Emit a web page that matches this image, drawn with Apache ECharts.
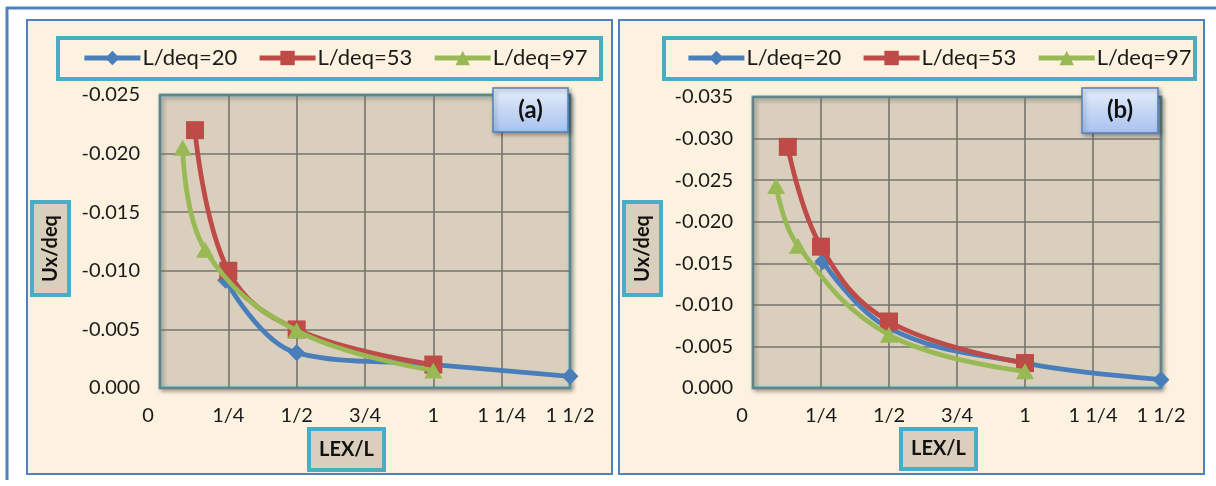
<!DOCTYPE html>
<html>
<head>
<meta charset="utf-8">
<script src="https://cdn.jsdelivr.net/npm/echarts@6/dist/echarts.min.js"></script>
<style>
html,body{margin:0;padding:0;background:#fff;}
#chart{width:1216px;height:486px;}
</style>
</head>
<body>
<div id="chart"></div>
<script>
// ---- data ----
const seriesNames = ['L/deq=20', 'L/deq=53', 'L/deq=97'];
const xTickLabels = ['0', '1/4', '1/2', '3/4', '1', '1 1/4', '1 1/2'];
const yTickLabelsA = ['-0.025', '-0.020', '-0.015', '-0.010', '-0.005', '0.000'];
const yTickLabelsB = ['-0.035', '-0.030', '-0.025', '-0.020', '-0.015', '-0.010', '-0.005', '0.000'];

// panel (a)
const a20x = [0.24, 0.5, 1.0, 1.5];
const a20y = [-0.0092, -0.003, -0.002, -0.001];
const a53x = [0.128, 0.25, 0.5, 1.0];
const a53y = [-0.022, -0.010, -0.005, -0.002];
const a97x = [0.083, 0.165, 0.5, 1.0];
const a97y = [-0.0205, -0.0118, -0.0049, -0.0015];
// panel (b)
const b20x = [0.257, 0.5, 1.0, 1.5];
const b20y = [-0.0152, -0.0072, -0.003, -0.001];
const b53x = [0.128, 0.25, 0.5, 1.0];
const b53y = [-0.029, -0.017, -0.008, -0.003];
const b97x = [0.085, 0.165, 0.5, 1.0];
const b97y = [-0.0243, -0.0171, -0.0064, -0.002];

const panelLabels = ['(a)', '(b)'];
const xTitle = 'LEX/L';
const yTitle = 'Ux/deq';

// ---- styles ----
const FONT = 'Lato, "Open Sans", sans-serif';
const colors = ['#4a7ebb', '#be4b48', '#98b954'];
const symbols = ['diamond', 'rect', 'triangle'];
const symbolSizes = [[17, 17], [18, 18], [18, 16]];
const TEAL = '#4bacc6';
const FRAME = '#4f81bd';
const PANEL_BG = '#fcf2df';
const PLOT_BG = '#d9cfbc';

function zip(xs, ys) { return xs.map((x, i) => [x, ys[i]]); }

function mkSeries(name, idx, gi, xs, ys) {
  return {
    name: name, type: 'line', xAxisIndex: gi, yAxisIndex: gi,
    data: zip(xs, ys), smooth: 0.4,
    symbol: symbols[idx], symbolSize: symbolSizes[idx],
    lineStyle: { color: colors[idx], width: 4.8 },
    itemStyle: { color: colors[idx] },
    emphasis: { disabled: true }, z: 2 + idx
  };
}

function xAxis(gi, zeroShift) {
  return {
    type: 'value', gridIndex: gi, min: 0, max: 1.5, interval: 0.25,
    axisLine: { show: false }, axisTick: { show: false },
    splitLine: { show: true, lineStyle: { color: '#76746f', width: 1.6 } },
    axisLabel: {
      margin: 18, fontSize: 20, color: '#1a1a1a', fontFamily: FONT,
      formatter: function (v) {
        const s = xTickLabels[Math.round(v / 0.25)];
        return v === 0 ? '{z|' + s + '}' : s;
      },
      rich: { z: { fontSize: 20, color: '#1a1a1a', fontFamily: FONT, padding: [0, zeroShift * 2, 0, 0] } }
    }
  };
}

function yAxis(gi, minV, labels) {
  return {
    type: 'value', gridIndex: gi, min: minV, max: 0, interval: 0.005, inverse: true,
    axisLine: { show: false }, axisTick: { show: false },
    splitLine: { show: true, lineStyle: { color: '#76746f', width: 1.6 } },
    axisLabel: {
      margin: 20, fontSize: 20, color: '#1a1a1a', fontFamily: FONT,
      formatter: function (v) { return labels[Math.round((v - minV) / 0.005)]; }
    }
  };
}

function box(x, y, w, h, fill, stroke, lw, z, extra) {
  return Object.assign({
    type: 'rect', z: z, silent: true,
    shape: { x: x, y: y, width: w, height: h },
    style: { fill: fill, stroke: stroke, lineWidth: lw }
  }, extra || {});
}

function txt(x, y, text, size, bold, z, rot) {
  return {
    type: 'text', z: z, silent: true, x: x, y: y, rotation: rot || 0,
    style: { text: text, fill: '#111', font: (bold ? 'bold ' : '') + size + 'px ' + FONT,
             textAlign: 'center', textVerticalAlign: 'middle' }
  };
}

const labelGrad = { type: 'linear', x: 0, y: 0, x2: 0, y2: 1,
  colorStops: [{ offset: 0, color: '#e6eefc' }, { offset: 1, color: '#a7c1ef' }] };
const labelStyle = { fill: labelGrad, stroke: FRAME, lineWidth: 1.5, shadowBlur: 4,
  shadowOffsetX: 2, shadowOffsetY: 2, shadowColor: 'rgba(0,0,0,0.35)' };

const graphics = [
  // outer frame lines
  { type: 'line', z: -20, silent: true, shape: { x1: 6, y1: 8, x2: 1216, y2: 8 }, style: { stroke: FRAME, lineWidth: 3 } },
  { type: 'line', z: -20, silent: true, shape: { x1: 7, y1: 7, x2: 7, y2: 480 }, style: { stroke: FRAME, lineWidth: 3 } },
  // panels
  box(27, 20, 585, 454, PANEL_BG, FRAME, 2, -10),
  box(619, 20, 585, 454, PANEL_BG, FRAME, 2, -10),
  // legend boxes
  box(58, 38, 543, 41, 'none', TEAL, 4, 5),
  box(664, 38, 531, 41, 'none', TEAL, 4, 5),
  // panel label boxes
  box(493, 88, 75, 44, labelGrad, FRAME, 1.5, 10, { style: labelStyle }),
  txt(530.5, 110, panelLabels[0], 24, true, 11),
  box(1082, 88, 76, 45, labelGrad, FRAME, 1.5, 10, { style: labelStyle }),
  txt(1120, 110.5, panelLabels[1], 24, true, 11),
  // y titles
  box(32, 202, 37, 93, '#d9cfbc', TEAL, 4, 10),
  txt(50.5, 248.5, yTitle, 20, true, 11, Math.PI / 2),
  box(624, 202, 37, 93, '#d9cfbc', TEAL, 4, 10),
  txt(642.5, 248.5, yTitle, 20, true, 11, Math.PI / 2),
  // x titles
  box(309, 429, 75, 41, '#d9cfbc', TEAL, 4, 10),
  txt(346.5, 449.5, xTitle, 20, true, 11),
  box(901, 429, 75, 40, '#d9cfbc', TEAL, 4, 10),
  txt(938.5, 449, xTitle, 20, true, 11)
];

const legendBase = {
  orient: 'horizontal', itemWidth: 56, itemHeight: 18, itemGap: 20,
  lineStyle: { width: 4.8 },
  textStyle: { fontSize: 22, color: '#1a1a1a', fontFamily: FONT, padding: [0, 0, 0, -3] },
  data: seriesNames, selectedMode: false, padding: 0
};

const option = {
  backgroundColor: '#ffffff',
  animation: false,
  graphic: graphics,
  legend: [
    Object.assign({}, legendBase, { left: 82, top: 47 }),
    Object.assign({}, legendBase, { left: 686, top: 47 })
  ],
  grid: [
    { left: 160, top: 95, width: 410, height: 293, show: true, backgroundColor: PLOT_BG,
      borderColor: TEAL, borderWidth: 3, shadowColor: 'rgba(0,0,0,0.3)', shadowBlur: 4, shadowOffsetX: 2, shadowOffsetY: 2 },
    { left: 753, top: 97, width: 408, height: 291, show: true, backgroundColor: PLOT_BG,
      borderColor: TEAL, borderWidth: 3, shadowColor: 'rgba(0,0,0,0.3)', shadowBlur: 4, shadowOffsetX: 2, shadowOffsetY: 2 }
  ],
  xAxis: [xAxis(0, 12), xAxis(1, 11)],
  yAxis: [yAxis(0, -0.025, yTickLabelsA), yAxis(1, -0.035, yTickLabelsB)],
  series: [
    mkSeries(seriesNames[0], 0, 0, a20x, a20y),
    mkSeries(seriesNames[1], 1, 0, a53x, a53y),
    mkSeries(seriesNames[2], 2, 0, a97x, a97y),
    mkSeries(seriesNames[0], 0, 1, b20x, b20y),
    mkSeries(seriesNames[1], 1, 1, b53x, b53y),
    mkSeries(seriesNames[2], 2, 1, b97x, b97y)
  ]
};

const chart = echarts.init(document.getElementById('chart'), null, { renderer: 'canvas' });
chart.setOption(option);
</script>
</body>
</html>
